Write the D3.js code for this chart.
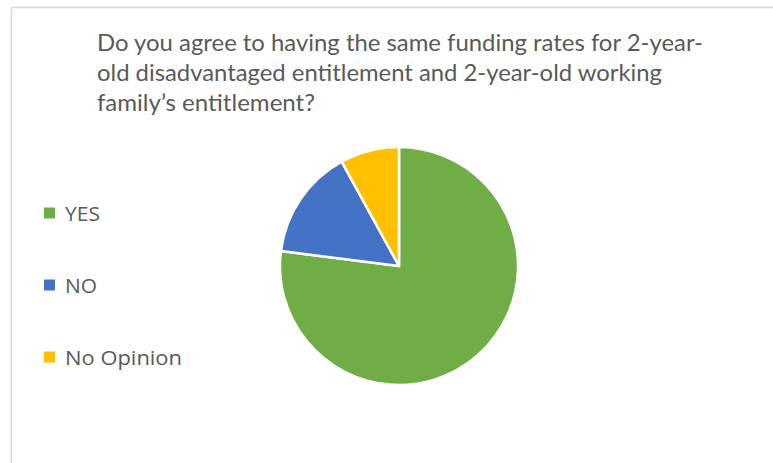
<!DOCTYPE html>
<html><head><meta charset="utf-8">
<script src="https://cdn.jsdelivr.net/npm/d3@7"></script>
<style>html,body{margin:0;padding:0;background:#fff;}svg{display:block;}</style>
</head><body>
<svg id="chart" width="773" height="463"></svg>
<script>
const categories = ["YES", "NO", "No Opinion"];
const values = [77, 15, 8];
const colors = ["#70AD47", "#4472C4", "#FFC000"];
const titleLines = [
  "Do you agree to having the same funding rates for 2-year-",
  "old disadvantaged entitlement and 2-year-old working",
  "family\u2019s entitlement?"
];
const titleWidths = [606, 565, 218];
const legendWidths = [35, 32, 117];

const svg = d3.select("#chart");
svg.append("rect").attr("x", 11.5).attr("y", 7.5).attr("width", 780).attr("height", 480)
  .attr("fill", "#fff").attr("stroke", "#d9d9d9").attr("stroke-width", 1.5);

const title = svg.append("text").attr("font-family", "Lato, 'Open Sans', sans-serif")
  .attr("font-size", 22.5).attr("fill", "#595959");
titleLines.forEach((t, i) => {
  title.append("tspan").attr("x", 97).attr("y", 51 + i * 30)
    .attr("textLength", titleWidths[i]).attr("lengthAdjust", "spacingAndGlyphs").text(t);
});

const cx = 399, cy = 266, r = 119;
const pie = d3.pie().sort(null).value(d => d)(values);
const arc = d3.arc().innerRadius(0).outerRadius(r);
svg.append("g").attr("transform", `translate(${cx},${cy})`)
  .selectAll("path").data(pie).join("path")
  .attr("d", arc).attr("fill", (d, i) => colors[i])
  .attr("stroke", "#fff").attr("stroke-width", 2.5).attr("stroke-linejoin", "round");

const legendY = d3.scalePoint().domain(categories).range([213, 357]);
const lg = svg.append("g");
categories.forEach((c, i) => {
  const y = legendY(c);
  lg.append("rect").attr("x", 44).attr("y", y - 5.5).attr("width", 11).attr("height", 11).attr("fill", colors[i]);
  lg.append("text").attr("x", 65).attr("y", y + 7.5).attr("font-family", "'Open Sans', sans-serif")
    .attr("font-size", 20).attr("fill", "#595959")
    .attr("textLength", legendWidths[i]).attr("lengthAdjust", "spacingAndGlyphs").text(c);
});
</script>
</body></html>
